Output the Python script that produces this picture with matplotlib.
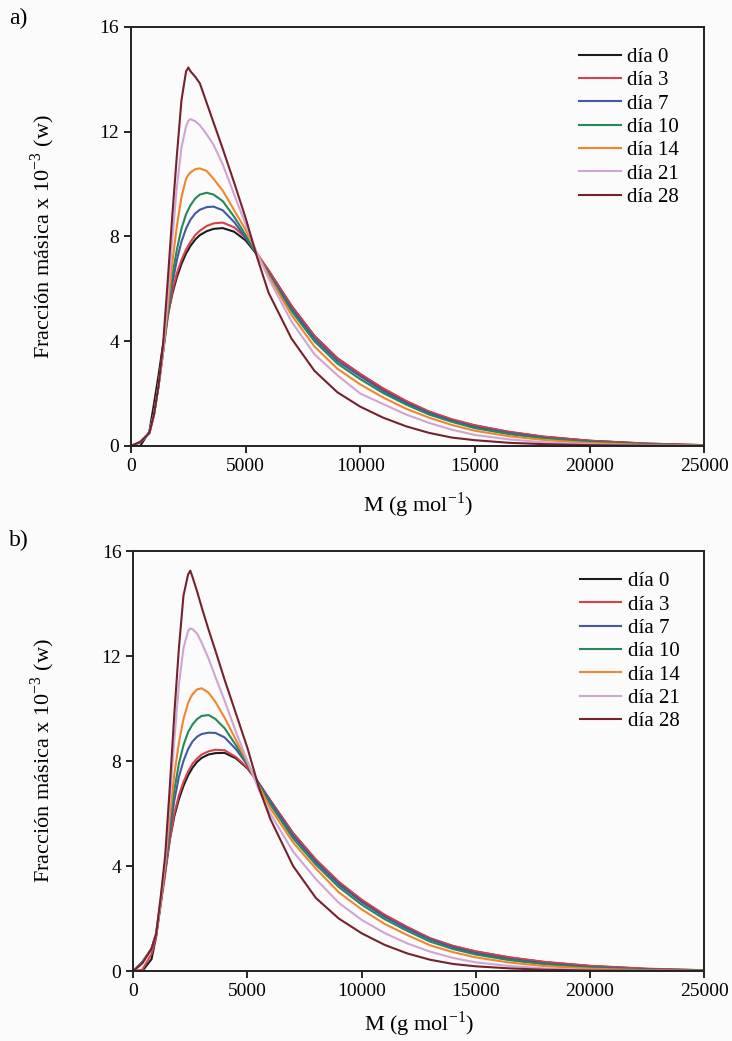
import matplotlib
matplotlib.use("Agg")
import matplotlib.pyplot as plt

plt.rcParams["font.family"] = ["Liberation Serif", "DejaVu Serif"]

# molar mass grid (g/mol), shared by both panels
M = [0, 400, 800, 1000, 1200, 1400, 1600, 1800, 2000, 2200, 2400, 2500, 2600,
     2800, 3000, 3300, 3600, 4000, 4500, 5000, 5500, 6000, 7000, 8000, 9000,
     10000, 11000, 12000, 13000, 14000, 15000, 16500, 18000, 20000, 22500, 25000]

labels = ["día 0", "día 3", "día 7", "día 10", "día 14", "día 21", "día 28"]
colors = ["#1c1c1c", "#d8404a", "#4458a6", "#25885a", "#f0862c", "#cfa5d2", "#74222e"]

# panel a) mass fraction x 10^-3
a_day0 = [0, 0, 0.55, 1.6, 2.7, 3.9, 5.0, 5.8, 6.45, 6.95, 7.35, 7.5, 7.65,
          7.88, 8.05, 8.2, 8.29, 8.32, 8.18, 7.85, 7.3, 6.7, 5.35, 4.2, 3.35,
          2.74, 2.18, 1.7, 1.3, 1.0, 0.78, 0.53, 0.35, 0.2, 0.09, 0.03]
a_day3 = [0, 0.15, 0.5, 1.2, 2.3, 3.6, 4.9, 5.9, 6.6, 7.1, 7.5, 7.65, 7.8,
          8.05, 8.22, 8.4, 8.5, 8.53, 8.35, 7.95, 7.35, 6.7, 5.35, 4.2, 3.35,
          2.75, 2.2, 1.72, 1.32, 1.02, 0.79, 0.54, 0.36, 0.2, 0.09, 0.03]
a_day7 = [0, 0.15, 0.5, 1.2, 2.3, 3.6, 5.0, 6.2, 7.1, 7.8, 8.3, 8.48, 8.65,
          8.88, 9.02, 9.12, 9.14, 9.0, 8.55, 7.95, 7.3, 6.6, 5.25, 4.1, 3.25,
          2.66, 2.1, 1.64, 1.26, 0.96, 0.72, 0.49, 0.31, 0.16, 0.06, 0.02]
a_day10 = [0, 0.15, 0.5, 1.2, 2.3, 3.7, 5.1, 6.5, 7.5, 8.3, 8.85, 9.03, 9.2,
           9.45, 9.6, 9.67, 9.6, 9.35, 8.75, 8.05, 7.3, 6.55, 5.15, 4.0, 3.15,
           2.55, 2.02, 1.58, 1.2, 0.92, 0.68, 0.45, 0.29, 0.15, 0.06, 0.02]
a_day14 = [0, 0.15, 0.5, 1.2, 2.3, 3.6, 5.3, 7.0, 8.4, 9.5, 10.2, 10.35, 10.45,
           10.57, 10.6, 10.5, 10.2, 9.75, 9.0, 8.25, 7.35, 6.5, 5.0, 3.8, 2.95,
           2.35, 1.85, 1.42, 1.08, 0.8, 0.58, 0.37, 0.23, 0.11, 0.04, 0.01]
a_day21 = [0, 0.15, 0.5, 1.2, 2.3, 3.7, 5.7, 7.9, 9.9, 11.4, 12.2, 12.42, 12.48,
           12.4, 12.25, 11.9, 11.5, 10.75, 9.6, 8.45, 7.35, 6.4, 4.75, 3.5, 2.7,
           2.0, 1.6, 1.2, 0.88, 0.62, 0.42, 0.25, 0.14, 0.06, 0.02, 0]
a_day28 = [0, 0.15, 0.5, 1.2, 2.3, 3.9, 6.3, 8.8, 11.1, 13.2, 14.3, 14.45, 14.3,
           14.1, 13.85, 13.1, 12.35, 11.35, 10.05, 8.7, 7.2, 5.85, 4.1, 2.87, 2.05,
           1.5, 1.08, 0.75, 0.5, 0.32, 0.22, 0.12, 0.07, 0.03, 0.01, 0]

# panel b) mass fraction x 10^-3
b_day0 = [0, 0, 0.45, 1.3, 2.6, 3.8, 5.0, 5.9, 6.55, 7.05, 7.45, 7.6, 7.75,
          7.97, 8.12, 8.25, 8.3, 8.31, 8.1, 7.72, 7.15, 6.5, 5.25, 4.22, 3.38,
          2.7, 2.13, 1.66, 1.24, 0.95, 0.74, 0.51, 0.34, 0.19, 0.08, 0.03]
b_day3 = [0, 0.05, 0.65, 1.3, 2.5, 3.7, 5.0, 6.0, 6.7, 7.2, 7.6, 7.75, 7.9,
          8.1, 8.25, 8.37, 8.43, 8.41, 8.15, 7.75, 7.15, 6.5, 5.25, 4.25, 3.4,
          2.72, 2.15, 1.68, 1.25, 0.96, 0.75, 0.52, 0.35, 0.2, 0.09, 0.03]
b_day7 = [0, 0.35, 0.85, 1.4, 2.6, 3.9, 5.3, 6.5, 7.4, 8.0, 8.45, 8.6, 8.75,
          8.93, 9.03, 9.08, 9.07, 8.9, 8.45, 7.85, 7.15, 6.45, 5.15, 4.15, 3.3,
          2.63, 2.07, 1.61, 1.2, 0.9, 0.68, 0.45, 0.29, 0.15, 0.06, 0.02]
b_day10 = [0, 0.35, 0.85, 1.4, 2.6, 4.0, 5.6, 6.9, 7.9, 8.6, 9.1, 9.25, 9.4,
           9.6, 9.72, 9.75, 9.6, 9.25, 8.6, 7.9, 7.1, 6.35, 5.05, 4.05, 3.2,
           2.53, 1.98, 1.53, 1.12, 0.84, 0.63, 0.41, 0.26, 0.13, 0.05, 0.02]
b_day14 = [0, 0.3, 0.85, 1.4, 2.6, 4.1, 5.9, 7.5, 8.7, 9.6, 10.2, 10.4, 10.55,
           10.73, 10.77, 10.6, 10.25, 9.65, 8.8, 7.95, 7.05, 6.2, 4.9, 3.9, 3.0,
           2.35, 1.8, 1.37, 0.98, 0.72, 0.52, 0.32, 0.19, 0.09, 0.03, 0.01]
b_day21 = [0, 0.3, 0.85, 1.4, 2.7, 4.2, 6.5, 8.8, 10.9, 12.3, 12.95, 13.05, 13.02,
           12.85, 12.5, 11.9, 11.2, 10.3, 9.1, 8.0, 6.9, 6.0, 4.55, 3.5, 2.6,
           1.95, 1.45, 1.05, 0.74, 0.5, 0.33, 0.19, 0.1, 0.04, 0.01, 0]
b_day28 = [0, 0.3, 0.85, 1.4, 2.8, 4.4, 7.0, 9.8, 12.3, 14.3, 15.1, 15.25, 15.0,
           14.45, 13.85, 13.0, 12.2, 11.1, 9.8, 8.5, 7.0, 5.8, 4.0, 2.78, 2.0,
           1.44, 1.0, 0.67, 0.43, 0.27, 0.18, 0.1, 0.05, 0.02, 0.01, 0]

panel_a = [a_day0, a_day3, a_day7, a_day10, a_day14, a_day21, a_day28]
panel_b = [b_day0, b_day3, b_day7, b_day10, b_day14, b_day21, b_day28]

fig = plt.figure(figsize=(7.32, 10.41), dpi=100)
fig.patch.set_facecolor("#fbfbfb")

ax_a = fig.add_axes([0.179, 0.5716, 0.783, 0.4025])
ax_b = fig.add_axes([0.182, 0.0672, 0.780, 0.4035])

for ax, series in [(ax_a, panel_a), (ax_b, panel_b)]:
    ax.set_facecolor("#fbfbfb")
    for ys, lab, col in zip(series, labels, colors):
        ax.plot(M, ys, color=col, lw=1.5, label=lab)

    ax.set_xlim(0, 25000)
    ax.set_ylim(0, 16)
    ax.set_xticks([0, 5000, 10000, 15000, 20000, 25000])
    ax.set_yticks([0, 4, 8, 12, 16])
    ax.tick_params(direction="out", length=5, width=1.2, labelsize=14,
                   top=False, right=False)
    for sp in ax.spines.values():
        sp.set_linewidth(1.4)
        sp.set_color("#222222")

    ax.set_xlabel(r"M (g mol$^{\mathregular{-1}}$)", fontsize=16)
    ax.set_ylabel(r"Fracción másica x 10$^{\mathregular{-3}}$ (w)", fontsize=16)

    ax.legend(loc="upper left", bbox_to_anchor=(0.782, 0.951), frameon=False,
              fontsize=15, handlelength=2.0, handletextpad=0.3,
              labelspacing=0.18, borderpad=0, borderaxespad=0)

ax_a.xaxis.set_label_coords(0.5, -0.105)
ax_a.yaxis.set_label_coords(-0.13, 0.5)
ax_b.xaxis.set_label_coords(0.5, -0.092)
ax_b.yaxis.set_label_coords(-0.134, 0.5)

fig.text(0.012, 0.982, "a)", fontsize=17, va="center")
fig.text(0.012, 0.481, "b)", fontsize=17, va="center")

fig.savefig("out.png", dpi=100, facecolor=fig.get_facecolor())
